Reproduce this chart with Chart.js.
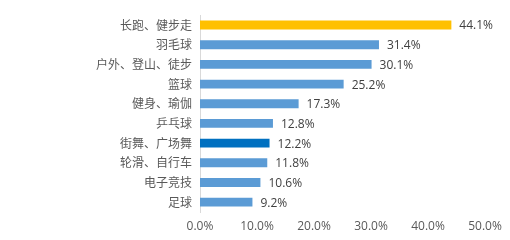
<!DOCTYPE html>
<html>
<head>
<meta charset="utf-8">
<script src="https://cdn.jsdelivr.net/npm/chart.js@4"></script>
<style>
  html, body { margin: 0; padding: 0; background: #fff; }
  #wrap { width: 510px; height: 240px; }
</style>
</head>
<body>
<div id="wrap"><canvas id="barChart"></canvas></div>
<script>
// categories and values
const categories = ['长跑、健步走', '羽毛球', '户外、登山、徒步', '篮球', '健身、瑜伽', '乒乓球', '街舞、广场舞', '轮滑、自行车', '电子竞技', '足球'];
const shares = [44.1, 31.4, 30.1, 25.2, 17.3, 12.8, 12.2, 11.8, 10.6, 9.2];
const barColors = ['#FFC000', '#5B9BD5', '#5B9BD5', '#5B9BD5', '#5B9BD5', '#5B9BD5', '#0070C0', '#5B9BD5', '#5B9BD5', '#5B9BD5'];

// value labels at the end of each bar
const valueLabels = {
    id: 'valueLabels',
    afterDatasetsDraw(chart) {
        const c = chart.ctx;
        const meta = chart.getDatasetMeta(0);
        c.save();
        c.font = '12px "Open Sans"';
        c.fillStyle = '#404040';
        c.textAlign = 'left';
        c.textBaseline = 'middle';
        meta.data.forEach((bar, i) => {
            c.fillText(shares[i].toFixed(1) + '%', bar.x + 8, bar.y + 1);
        });
        c.restore();
    }
};

const ctx = document.getElementById('barChart').getContext('2d');

new Chart(ctx, {
    type: 'bar',
    data: {
        labels: categories,
        datasets: [{
            data: shares,
            backgroundColor: barColors,
            borderWidth: 0,
            barPercentage: 0.45,
            categoryPercentage: 1,
        }],
    },
    options: {
        indexAxis: 'y',
        responsive: true,
        maintainAspectRatio: false,
        animation: false,
        layout: {
            padding: { top: 12, right: 25, left: 0, bottom: 0 },
        },
        plugins: {
            legend: { display: false },
            tooltip: { enabled: false },
        },
        scales: {
            x: {
                min: 0,
                max: 50,
                grid: { display: false, drawTicks: false },
                border: { display: false },
                ticks: {
                    stepSize: 10,
                    padding: 7,
                    color: '#595959',
                    font: { family: 'Open Sans', size: 12 },
                    callback: (v) => v.toFixed(1) + '%',
                },
                afterFit: (scale) => { scale.height = 28; },
            },
            y: {
                grid: { display: false, drawTicks: false },
                border: { display: true, color: '#D9D9D9', width: 1 },
                ticks: {
                    padding: 8,
                    color: '#595959',
                    font: { family: 'Noto Sans CJK SC', size: 12 },
                },
                afterFit: (scale) => { scale.width = 200; },
            },
        },
    },
    plugins: [valueLabels],
});
</script>
</body>
</html>
